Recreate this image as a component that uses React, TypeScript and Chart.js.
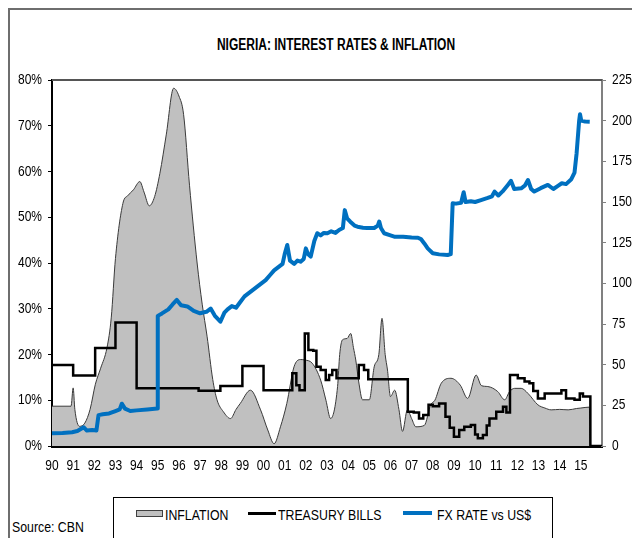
import React, { useEffect, useRef } from 'react';
import { Chart, registerables } from 'chart.js';

Chart.register(...registerables);

// ---------- text ----------
const TITLE = 'NIGERIA: INTEREST RATES & INFLATION';
const SOURCE = 'Source: CBN';
const SERIES_NAMES = ['INFLATION', 'TREASURY BILLS', 'FX RATE vs US$'];

// ---------- axes ----------
const X_MIN = 1990;
const X_MAX = 2016;
const LEFT_MAX = 80;
const LEFT_STEP = 10;
const RIGHT_MAX = 225;
const RIGHT_STEP = 25;

// ---------- inflation (% y/y, left axis) ----------
const inflationYears = [
  1990.0, 1990.9, 1991.0, 1991.08, 1991.3, 1991.55, 1991.8, 1992.05, 1992.3, 1992.6,
  1992.8, 1993.0,
  1993.35, 1993.6, 1993.85, 1994.15, 1994.35, 1994.6, 1994.85, 1995.1, 1995.4, 1995.75,
  1996.0, 1996.22, 1996.5, 1996.86, 1997.1, 1997.33, 1997.6, 1997.8, 1998.1, 1998.44,
  1998.7, 1998.9, 1999.38, 1999.86, 2000.2, 2000.5, 2000.8, 2001.1, 2001.44, 2001.75,
  2001.95, 2002.3, 2002.7, 2002.95, 2003.17, 2003.5, 2003.6, 2003.73, 2003.95, 2004.12,
  2004.25, 2004.36, 2004.5, 2004.68, 2005.0, 2005.23, 2005.45, 2005.6, 2005.75, 2005.86,
  2006.0, 2006.2, 2006.4, 2006.57, 2006.8, 2007.0, 2007.2, 2007.6, 2007.9, 2008.1,
  2008.4, 2008.86, 2009.3, 2009.65, 2010.05, 2010.3, 2010.6, 2011.07, 2011.4, 2011.63,
  2011.87, 2012.18, 2012.5, 2012.97, 2013.3, 2013.6, 2014.0, 2014.4, 2014.8, 2015.0,
  2015.4, 2015.45, 2016.0,
];
const inflationValues = [
  8.7, 8.7, 12.7, 8.0, 4.3, 5.0, 8.0, 13.5, 17.0, 21.5,
  28.0, 41.0,
  53.0, 54.8, 56.0, 57.8, 55.5, 52.5, 54.5, 59.6, 68.0, 78.2,
  76.5, 72.5, 57.0, 40.0, 31.0, 24.0, 14.5, 10.1, 7.5, 6.0,
  8.0, 9.3, 12.2, 7.9, 3.5, 0.5, 4.2, 9.3, 17.3, 18.9,
  18.8, 18.1, 14.4, 10.0, 6.0, 13.0, 20.0, 23.2, 23.5, 24.6,
  21.5, 18.8, 14.0, 10.1, 10.1, 17.3, 20.0, 27.9, 20.0, 16.6,
  10.8, 12.2, 8.0, 3.2, 7.9, 6.0, 4.2, 4.5, 9.0, 10.0,
  13.7, 14.8, 13.3, 10.4, 15.5, 13.2, 13.0, 11.9, 10.1, 11.9,
  12.6, 12.6, 11.5, 9.0, 8.3, 7.9, 8.0, 7.9, 8.2, 8.3,
  8.5, 0, 0,
];

// ---------- treasury bills (% , left axis, value holds from each date) ----------
const tbillYears = [
  1990.0, 1991.0, 1992.04, 1993.0, 1994.0, 1996.93, 1997.96, 1999.0, 2000.0, 2001.36,
  2001.55, 2001.7, 2001.95, 2002.12, 2002.35, 2002.5, 2002.7, 2002.94, 2003.1, 2003.25,
  2003.45, 2004.5, 2004.75, 2004.95, 2006.82, 2007.1, 2007.35, 2007.55, 2007.8, 2008.0,
  2008.3, 2008.6, 2008.8, 2009.0, 2009.25, 2009.49, 2009.8, 2010.0, 2010.13, 2010.37,
  2010.55, 2010.68, 2011.0, 2011.32, 2011.48, 2011.65, 2012.02, 2012.34, 2012.57, 2012.75,
  2012.97, 2013.29, 2013.76, 2014.08, 2014.3, 2014.7, 2014.95, 2015.1, 2015.45, 2016.0,
];
const tbillValues = [
  17.7, 15.4, 21.4, 27.0, 12.6, 12.1, 13.1, 17.5, 12.2, 15.9,
  13.3, 12.2, 24.6, 21.0, 20.8, 17.3, 16.6, 14.4, 15.5, 16.6,
  14.8, 17.7, 16.6, 14.6, 7.5, 7.3, 6.0, 6.8, 9.0, 8.7,
  9.3, 6.4, 4.0, 2.0, 3.5, 4.2, 4.6, 2.5, 1.7, 2.4,
  4.5, 6.0, 7.5, 8.6, 7.3, 15.5, 14.8, 14.1, 13.7, 12.0,
  10.4, 11.5, 11.5, 12.2, 10.4, 10.1, 11.5, 10.8, 0, 0,
];

// ---------- FX rate (Naira per US$, right axis) ----------
const fxYears = [
  1990.0, 1990.5, 1990.95, 1991.2, 1991.5, 1991.65, 1991.9, 1992.1, 1992.2, 1992.4,
  1992.7, 1993.0, 1993.2, 1993.3, 1993.45, 1993.7, 1994.0, 1994.5, 1994.98, 1995.0,
  1995.2, 1995.5, 1995.7, 1995.9, 1996.1, 1996.4, 1996.7, 1997.0, 1997.3, 1997.5,
  1997.7, 1997.96, 1998.15, 1998.3, 1998.5, 1998.7, 1998.9, 1999.1, 1999.3, 1999.5,
  1999.7, 1999.9, 2000.1, 2000.3, 2000.5, 2000.7, 2000.9, 2001.0, 2001.12, 2001.25,
  2001.45, 2001.6, 2001.75, 2001.9, 2002.0, 2002.1, 2002.23, 2002.4, 2002.54, 2002.7,
  2002.85, 2003.02, 2003.2, 2003.4, 2003.57, 2003.75, 2003.84, 2003.95, 2004.1, 2004.3,
  2004.44, 2004.7, 2004.9, 2005.23, 2005.4, 2005.47, 2005.55, 2005.7, 2006.0, 2006.18,
  2006.6, 2007.0, 2007.3, 2007.44, 2007.6, 2007.76, 2008.0, 2008.3, 2008.7, 2008.85,
  2008.94, 2009.1, 2009.34, 2009.46, 2009.55, 2009.8, 2010.0, 2010.28, 2010.6, 2010.8,
  2010.92, 2011.1, 2011.3, 2011.55, 2011.7, 2011.85, 2012.18, 2012.35, 2012.5, 2012.65,
  2012.8, 2013.1, 2013.44, 2013.7, 2013.9, 2014.1, 2014.3, 2014.55, 2014.7, 2014.8,
  2014.92, 2014.96, 2015.02, 2015.2, 2015.42,
];
const fxValues = [
  7.8, 8.0, 8.5, 9.2, 11.5, 9.5, 9.8, 9.5, 19.0, 19.5,
  20.0, 21.5, 22.5, 26.0, 23.0, 21.5, 21.9, 22.4, 23.0, 80.0,
  81.5, 84.0, 87.0, 89.8, 86.5, 85.8, 83.0, 81.6, 82.5, 84.5,
  80.0, 76.4, 82.0, 84.0, 86.0, 85.0, 88.5, 92.0, 94.0, 96.0,
  98.0, 100.0, 102.0, 105.0, 108.0, 110.0, 112.0, 118.0, 123.6, 114.0,
  112.0, 114.0, 113.3, 115.0, 121.5, 118.0, 116.4, 126.0, 130.8, 129.5,
  131.0, 130.8, 132.0, 131.0, 132.8, 134.0, 145.0, 140.0, 137.9, 135.5,
  134.8, 134.2, 134.0, 134.0, 135.5, 138.0, 134.0, 130.8, 129.5, 128.7,
  128.7, 128.2, 128.0, 127.2, 124.5, 121.5, 118.5, 117.8, 117.4, 118.0,
  149.2, 149.0, 149.5, 156.0, 150.0, 150.5, 150.0, 151.2, 152.5, 153.5,
  156.4, 154.0, 156.5, 160.5, 163.0, 158.0, 158.4, 160.0, 163.5, 158.0,
  156.4, 158.5, 160.5, 158.0, 159.8, 161.5, 161.0, 164.0, 168.0, 180.0,
  200.0, 204.0, 200.0, 199.5, 199.4,
];

const toPoints = (xs: number[], ys: number[]) => xs.map((x, i) => ({ x, y: ys[i] }));

const CONDENSE = 0.8;

// Draws the chart's own tick labels horizontally condensed (narrow-font look).
const condensePlugin = {
  id: 'condenseText',
  beforeDraw(chart: any) {
    const ctx: any = chart.ctx;
    if (ctx.__condensed) return;
    const orig = CanvasRenderingContext2D.prototype.fillText;
    ctx.__condensed = true;
    ctx.fillText = function (text: any, x: number, y: number, maxWidth?: number) {
      const w = this.measureText(String(text)).width;
      const limit = Math.max(w * CONDENSE, 0.01);
      const mw = maxWidth !== undefined && maxWidth !== null ? Math.min(maxWidth, limit) : limit;
      return orig.call(this, text, x, y, mw);
    };
  },
  afterDraw(chart: any) {
    const ctx: any = chart.ctx;
    if (ctx.__condensed) {
      delete ctx.fillText;
      delete ctx.__condensed;
    }
  },
};

const framePlugin = {
  id: 'frameTop',
  afterDatasetsDraw(chart: any) {
    const { ctx, chartArea } = chart;
    ctx.save();
    ctx.strokeStyle = '#555555';
    ctx.lineWidth = 2;
    ctx.beginPath();
    ctx.moveTo(chartArea.left, chartArea.top);
    ctx.lineTo(chartArea.right, chartArea.top);
    ctx.stroke();
    ctx.restore();
  },
};

const TEXT_FONT = '"Liberation Sans", Arial, sans-serif';

export default function App() {
  const canvasRef = useRef<HTMLCanvasElement | null>(null);

  useEffect(() => {
    if (!canvasRef.current) return;
    const tickFont = { family: '"Liberation Sans", Arial, sans-serif', size: 15 };

    const chart = new Chart(canvasRef.current, {
      type: 'line',
      data: {
        datasets: [
          {
            label: SERIES_NAMES[0],
            data: toPoints(inflationYears, inflationValues),
            yAxisID: 'y',
            borderColor: '#3a3a3a',
            borderWidth: 1,
            backgroundColor: '#c0c0c0',
            fill: 'origin',
            pointRadius: 0,
            cubicInterpolationMode: 'monotone',
            order: 3,
          },
          {
            label: SERIES_NAMES[1],
            data: toPoints(tbillYears, tbillValues),
            yAxisID: 'y',
            borderColor: '#000000',
            borderWidth: 2.5,
            stepped: 'before',
            pointRadius: 0,
            fill: false,
            order: 2,
          },
          {
            label: SERIES_NAMES[2],
            data: toPoints(fxYears, fxValues),
            yAxisID: 'y2',
            borderColor: '#0070C0',
            borderWidth: 4,
            borderJoinStyle: 'round',
            pointRadius: 0,
            fill: false,
            order: 1,
          },
        ],
      } as any,
      options: {
        responsive: false,
        animation: false,
        layout: { padding: { top: 30, left: 0, right: 0, bottom: 0 } },
        plugins: {
          legend: { display: false },
          title: { display: false },
          tooltip: { enabled: false },
        },
        scales: {
          x: {
            type: 'linear',
            position: 'bottom',
            min: X_MIN,
            max: X_MAX,
            z: 1,
            ticks: {
              stepSize: 1,
              autoSkip: false,
              maxRotation: 0,
              padding: 16,
              color: '#000',
              font: tickFont,
              callback: (v: any) => (v >= X_MAX ? '' : String(Number(v) % 100).padStart(2, '0')),
            },
            grid: { drawOnChartArea: false, drawTicks: true, tickLength: -5, color: '#000', lineWidth: 1 },
            border: { display: true, color: '#000', width: 3 },
            afterFit: (s: any) => { s.height = 44; },
          },
          y: {
            position: 'left',
            min: 0,
            max: LEFT_MAX,
            z: 1,
            ticks: {
              stepSize: LEFT_STEP,
              padding: 6,
              color: '#000',
              font: tickFont,
              callback: (v: any) => `${v}%`,
            },
            grid: { drawOnChartArea: false, tickLength: 4, color: '#000' },
            border: { display: true, color: '#000', width: 2 },
            afterFit: (s: any) => { s.width = 42; },
          },
          y2: {
            position: 'right',
            min: 0,
            max: RIGHT_MAX,
            ticks: {
              stepSize: RIGHT_STEP,
              padding: 6,
              color: '#000',
              font: tickFont,
            },
            grid: { drawOnChartArea: false, tickLength: 4, color: '#808080' },
            border: { display: true, color: '#808080', width: 2 },
            afterFit: (s: any) => { s.width = 30; },
          },
        },
      } as any,
      plugins: [condensePlugin, framePlugin],
    });
    return () => chart.destroy();
  }, []);

  const legendText: React.CSSProperties = {
    position: 'absolute',
    top: 8,
    fontFamily: TEXT_FONT,
    fontSize: 15,
    lineHeight: '18px',
    whiteSpace: 'pre',
    transform: 'scaleX(0.82)',
    transformOrigin: 'left center',
    color: '#000',
  };

  return (
    <div
      style={{
        position: 'fixed',
        left: 8,
        top: 8,
        width: 624,
        height: 530,
        boxSizing: 'border-box',
        borderTop: '2px solid #6e6e6e',
        borderLeft: '2px solid #6e6e6e',
        overflow: 'hidden',
        background: '#fff',
      }}
    >
      <div
        style={{
          position: 'absolute',
          left: 126,
          top: 25,
          width: 400,
          textAlign: 'center',
          fontFamily: TEXT_FONT,
          fontWeight: 'bold',
          fontSize: 16,
          lineHeight: '20px',
          transform: 'scaleX(0.75)',
          transformOrigin: 'center center',
          color: '#000',
          whiteSpace: 'nowrap',
        }}
      >
        {TITLE}
      </div>
      <canvas
        ref={canvasRef}
        width={622}
        height={440}
        style={{ position: 'absolute', left: 0, top: 40, width: 622, height: 440 }}
      />
      <div
        style={{
          position: 'absolute',
          left: 103,
          top: 487,
          width: 440,
          height: 60,
          boxSizing: 'border-box',
          border: '1px solid #000',
        }}
      >
        <div
          style={{
            position: 'absolute', left: 22, top: 12, width: 27, height: 7,
            boxSizing: 'border-box', background: '#c0c0c0', border: '1.5px solid #404040',
          }}
        />
        <div style={{ ...legendText, left: 51 }}>{SERIES_NAMES[0]}</div>
        <div style={{ position: 'absolute', left: 134, top: 14, width: 28, height: 3, background: '#000' }} />
        <div style={{ ...legendText, left: 164 }}>{SERIES_NAMES[1]}</div>
        <div style={{ position: 'absolute', left: 289, top: 13, width: 29, height: 4, background: '#0070C0' }} />
        <div style={{ ...legendText, left: 323 }}>{SERIES_NAMES[2]}</div>
      </div>
      <div
        style={{
          position: 'absolute',
          left: 2,
          top: 508,
          fontFamily: TEXT_FONT,
          fontSize: 15,
          lineHeight: '18px',
          whiteSpace: 'pre',
          transform: 'scaleX(0.82)',
          transformOrigin: 'left center',
          color: '#000',
        }}
      >
        {SOURCE}
      </div>
    </div>
  );
}
